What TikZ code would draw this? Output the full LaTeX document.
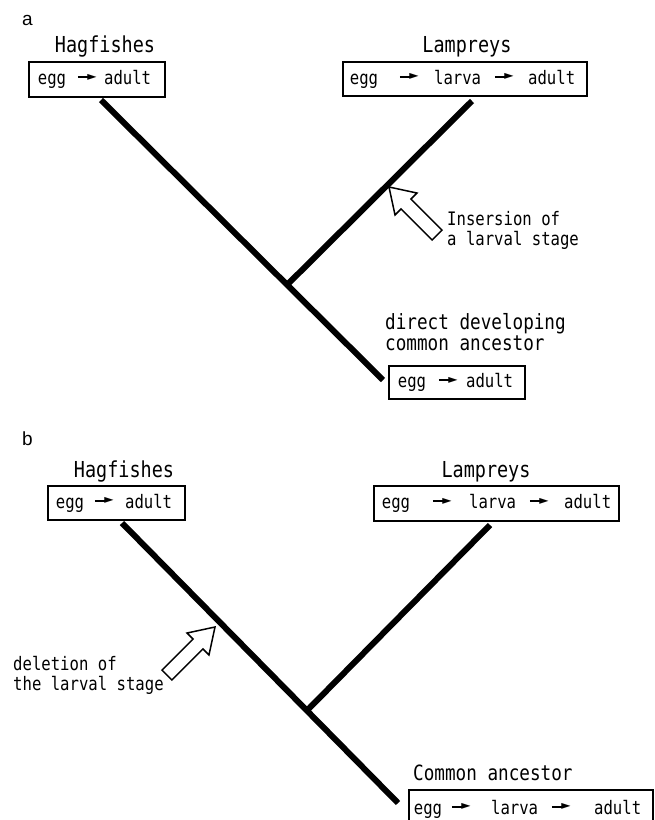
\documentclass[tikz,border=0pt]{standalone}
\usepackage{fontspec}
\newfontfamily\gothic[FakeStretch=0.84]{DejaVu Sans Mono}
\newfontfamily\arrowfont{DejaVu Sans}
\newfontfamily\panelfont{Liberation Sans}
\usetikzlibrary{positioning, calc}

% arrow between two stages, with the gaps before and after it
\newcommand{\stagearrow}{\makebox[20pt]{\raisebox{3pt}{$\vcenter{\hbox{\rule{11pt}{1.8pt}}}\kern-1.5pt
    \vcenter{\hbox{\arrowfont\fontsize{12}{12}\selectfont ►}}$}}}
\newcommand{\nextstage}[2]{\hspace{#1}\stagearrow\hspace{#2}}

\tikzset{
    pics/hollow arrow/.style={code={
        \draw[hollow] (0,0) -- (-24,15.5) -- (-24,7) -- (-68,7) -- (-68,-7)
            -- (-24,-7) -- (-24,-15.5) -- cycle;
    }}
}

\begin{document}
\begin{tikzpicture}[
    x=1pt, y=-1pt,
    branch/.style={line width=6pt},
    taxon/.style={font=\gothic\fontsize{22}{24}\selectfont, inner sep=0pt},
    stagebox/.style={draw, line width=1.8pt, anchor=north west, inner ysep=0pt, align=left,
        font=\gothic\fontsize{18.6}{20}\selectfont},
    note/.style={font=\gothic\fontsize{18.6}{20}\selectfont, inner sep=0pt, align=left, anchor=west},
    bignote/.style={font=\gothic\fontsize{21}{21}\selectfont, inner sep=0pt, align=left, anchor=west},
    panel/.style={font=\panelfont\fontsize{19}{20}\selectfont, inner sep=0pt, anchor=base west},
    hollow/.style={draw, line width=1.5pt, fill=white, line join=miter}
]
    \path[use as bounding box, fill=white] (0,0) rectangle (655,820);

    % Panel a: direct developing ancestor
    \node[panel] (pa) at (22,25) {a};
    \node[taxon] (hag-a-name) at (105,47) {Hagfishes};
    \node[taxon] (lam-a-name) at (467,47) {Lampreys};
    \node[stagebox, inner xsep=9pt, text width=118pt, minimum height=35pt] (hag-a) at (28,61)
        {\mbox{egg\nextstage{11pt}{7pt}adult}};
    \node[stagebox, inner xsep=7pt, text width=230pt, minimum height=34pt] (lam-a) at (342,61)
        {\mbox{egg\nextstage{21pt}{15pt}larva\nextstage{13pt}{14pt}adult}};
    \node[bignote] (anc-a-name) at (385,332) {direct developing\\common ancestor};
    \node[stagebox, inner xsep=9pt, text width=118pt, minimum height=33pt] (anc-a) at (388,365)
        {\mbox{egg\nextstage{12pt}{8pt}adult}};

    \coordinate (hag-a-top) at (101,100);
    \coordinate (lam-a-top) at (472,101);
    \coordinate (root-a) at (383,380);
    \coordinate (fork-a) at ($(hag-a-top)!0.66!(root-a)$);
    \draw[branch] (hag-a-top) -- (root-a);
    \draw[branch] (lam-a-top) -- (fork-a);

    \pic[rotate=135] at (389,187) {hollow arrow};
    \node[note] (ins) at (447,230) {Insersion of\\a larval stage};

    % Panel b: larval ancestor
    \node[panel] (pb) at (22,445) {b};
    \node[taxon] (hag-b-name) at (124,471) {Hagfishes};
    \node[taxon] (lam-b-name) at (486,472) {Lampreys};
    \node[stagebox, inner xsep=8pt, text width=121pt, minimum height=34pt] (hag-b) at (47,485)
        {\mbox{egg\nextstage{10pt}{11pt}adult}};
    \node[stagebox, inner xsep=8pt, text width=229pt, minimum height=35pt] (lam-b) at (373,485)
        {\mbox{egg\nextstage{22pt}{17pt}larva\nextstage{13pt}{15pt}adult}};
    \node[bignote] (anc-b-name) at (413,773) {Common ancestor};
    \node[stagebox, inner xsep=5pt, text width=234pt, minimum height=38pt] (anc-b) at (408,789)
        {\mbox{egg\nextstage{9pt}{20pt}larva\nextstage{13pt}{23pt}adult}};

    \coordinate (hag-b-top) at (122,523);
    \coordinate (lam-b-top) at (490,525);
    \coordinate (root-b) at (398,803);
    \coordinate (fork-b) at ($(hag-b-top)!0.67!(root-b)$);
    \draw[branch] (hag-b-top) -- (root-b);
    \draw[branch] (lam-b-top) -- (fork-b);

    \pic[rotate=45] at (215,627) {hollow arrow};
    \node[note] (del) at (13,675) {deletion of\\the larval stage};

\end{tikzpicture}
\end{document}
